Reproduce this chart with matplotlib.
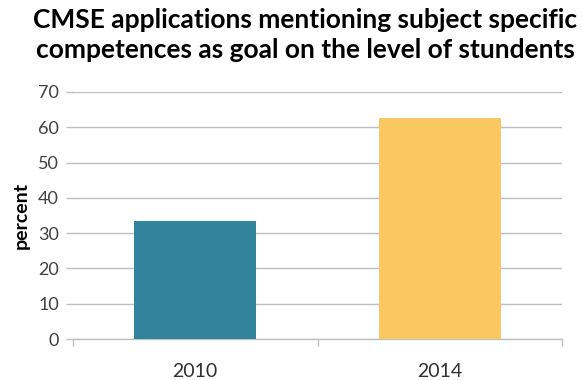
import matplotlib
matplotlib.use("Agg")
import matplotlib.pyplot as plt

years = ["2010", "2014"]
values = [33.3, 62.5]
colors = ["#31849B", "#FAC761"]
yticks = [0, 10, 20, 30, 40, 50, 60, 70]

plt.rcParams['font.family'] = ['Lato', 'DejaVu Sans']

fig = plt.figure(figsize=(5.82, 3.80), dpi=100)
ax = fig.add_axes([73/582, 1-339/380, (562-73)/582, (339-92)/380])

x = range(len(years))
ax.bar(x, values, width=0.5, color=colors, zorder=3)

ax.set_xlim(-0.5, len(years) - 0.5)
ax.set_ylim(0, 70)
ax.set_yticks(yticks)
ax.set_yticklabels([str(t) for t in yticks], fontsize=13, color="#404040")
ax.yaxis.grid(True, color="#BFBFBF", linewidth=1.0, zorder=0)
ax.tick_params(axis='y', length=5, color="#BFBFBF", width=1.0, pad=5)

# category ticks sit on the boundaries between years
ax.set_xticks([-0.5, 0.5, 1.5])
ax.set_xticklabels(["", "", ""])
ax.set_xticks(list(x), minor=True)
ax.set_xticklabels(years, minor=True, fontsize=14, color="#303030")
ax.tick_params(axis='x', which='major', length=5, color="#BFBFBF", width=1.0)
ax.tick_params(axis='x', which='minor', length=0, pad=17)

for side in ("left", "right", "top"):
    ax.spines[side].set_visible(False)
ax.spines["bottom"].set_color("#BFBFBF")
ax.spines["bottom"].set_linewidth(1.0)

ax.set_ylabel("percent", fontsize=14, fontweight="bold", labelpad=6)

fig.text(305/582, 1-20/380, "CMSE applications mentioning subject specific",
         ha="center", va="center", fontsize=19, fontweight="bold")
fig.text(305/582, 1-50/380, "competences as goal on the level of stundents",
         ha="center", va="center", fontsize=19, fontweight="bold")

fig.savefig("out.png", dpi=100)
